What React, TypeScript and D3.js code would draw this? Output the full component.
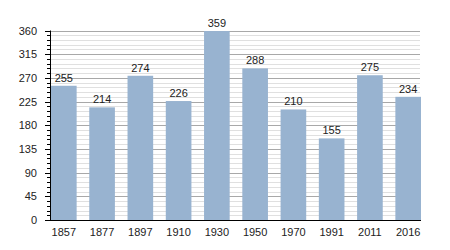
import React from "react";
import * as d3 from "d3";

const years = ["1857", "1877", "1897", "1910", "1930", "1950", "1970", "1991", "2011", "2016"];
const values = [255, 214, 274, 226, 359, 288, 210, 155, 275, 234];
const majorTicks = [0, 45, 90, 135, 180, 225, 270, 315, 360];
const minorTicks = d3.range(0, 361, 9);

export default function App() {
  const W = 450, H = 250;
  const left = 50, right = 421, top = 30.5, bottom = 220;
  const x = d3.scaleBand<string>().domain(years).range([left + 1, right]).paddingInner(0.33).paddingOuter(0);
  const y = d3.scaleLinear().domain([0, 360]).range([bottom, top]);
  const font = "Liberation Sans, Arial, sans-serif";
  return (
    <svg width={W} height={H} style={{ position: "absolute", left: 0, top: 0 }} fontFamily={font}>
      <rect width={W} height={H} fill="#fff" />
      {minorTicks.filter(t => t % 45 !== 0).map(t => (
        <line key={"m" + t} x1={left} x2={right - 1} y1={Math.round(y(t)) + 0.5} y2={Math.round(y(t)) + 0.5} stroke="#e0e0e0" strokeWidth={1} />
      ))}
      {majorTicks.filter(t => t !== 0).map(t => (
        <line key={"g" + t} x1={left} x2={right - 1} y1={Math.round(y(t)) + 0.5} y2={Math.round(y(t)) + 0.5} stroke="#a8a8a8" strokeWidth={1} />
      ))}
      {years.map((yr, i) => (
        <rect key={yr} x={x(yr)} y={y(values[i])} width={x.bandwidth()} height={bottom - y(values[i])} fill="#98b3d0" />
      ))}
      {years.map((yr, i) => (
        <text key={"v" + yr} x={(x(yr) as number) + x.bandwidth() / 2} y={y(values[i]) - 4} textAnchor="middle" fontSize={11} fill="#222">{values[i]}</text>
      ))}
      {minorTicks.map(t => (
        <line key={"t" + t} x1={t % 45 === 0 ? left - 5 : left - 3} x2={left} y1={Math.round(y(t)) + 0.5} y2={Math.round(y(t)) + 0.5} stroke="#000" strokeWidth={1} />
      ))}
      {majorTicks.map(t => (
        <text key={"l" + t} x={37} y={y(t) + 4} textAnchor="end" fontSize={11} fill="#222">{t}</text>
      ))}
      <line x1={left + 0.5} x2={left + 0.5} y1={top} y2={bottom + 0.5} stroke="#000" strokeWidth={1} />
      <line x1={left} x2={right} y1={bottom + 0.5} y2={bottom + 0.5} stroke="#000" strokeWidth={1} />
      {years.map(yr => (
        <text key={"x" + yr} x={(x(yr) as number) + x.bandwidth() / 2} y={236} textAnchor="middle" fontSize={11} fill="#222">{yr}</text>
      ))}
    </svg>
  );
}
